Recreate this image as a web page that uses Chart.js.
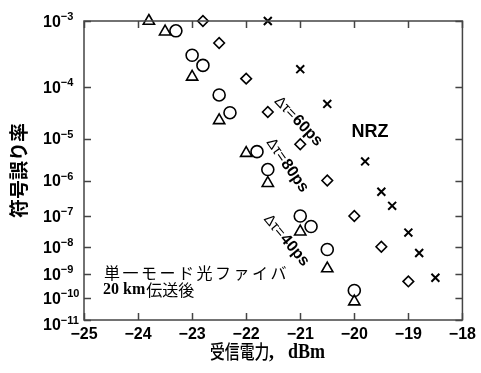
<!DOCTYPE html>
<html><head><meta charset="utf-8">
<script src="https://cdn.jsdelivr.net/npm/chart.js@4/dist/chart.umd.min.js"></script>
<style>html,body{margin:0;padding:0;background:#fff}</style>
</head><body>
<canvas id="c" width="481" height="373"></canvas>
<script>
// ---- data (received power in dBm, bit error rate) ----
const xTicks = [-25, -24, -23, -22, -21, -20, -19, -18];
const yTickExponents = [3, 4, 5, 6, 7, 8, 9, 10, 11];

const triPower = [-23.8, -23.5, -23.0, -22.5, -22.0, -21.6, -21.0, -20.5, -20.0];
const triBER   = [1e-3, 7.2e-4, 1.5e-4, 2.4e-5, 4.7e-6, 8.5e-7, 3.2e-8, 1.6e-9, 7e-11];

const cirPower = [-23.3, -23.0, -22.8, -22.5, -22.3, -21.8, -21.6, -21.0, -20.8, -20.5, -20.0];
const cirBER   = [7.4e-4, 3.3e-4, 2.3e-4, 7.3e-5, 3.4e-5, 5.1e-6, 1.9e-6, 1e-7, 4.7e-8, 8e-9, 2.1e-10];

const diaPower = [-22.8, -22.5, -22.0, -21.6, -21.0, -20.5, -20.0, -19.5, -19.0];
const diaBER   = [1e-3, 5e-4, 1.4e-4, 3.5e-5, 7.5e-6, 1e-6, 1e-7, 1e-8, 5e-10];

const nrzPower = [-21.6, -21.0, -20.5, -19.8, -19.5, -19.3, -19.0, -18.8, -18.5];
const nrzBER   = [1e-3, 2e-4, 5e-5, 3e-6, 5e-7, 2e-7, 3e-8, 6e-9, 7e-10];

// BER axis: log10(-log10(BER)) scale (reversed)
const berPos = b => Math.log10(-Math.log10(b));
const pts = (xs, bs) => xs.map((x, i) => ({ x: x, y: berPos(bs[i]) }));

const FRAME = '#444';
const SANS = '"Liberation Sans", Arial, sans-serif';
const CJK = '"Noto Sans CJK JP", sans-serif';
const SERIF = '"Liberation Serif", "Times New Roman", serif';

const decor = {
  id: 'decor',
  afterDraw(chart) {
    const ctx = chart.ctx, a = chart.chartArea;
    const xs = chart.scales.x, ys = chart.scales.y;
    ctx.save();
    // frame
    ctx.strokeStyle = FRAME; ctx.lineWidth = 1.5;
    ctx.strokeRect(a.left, a.top, a.right - a.left, a.bottom - a.top);
    // inner ticks
    const TL = 7;
    ctx.beginPath();
    xTicks.forEach(v => {
      const px = Math.round(xs.getPixelForValue(v)) + 0.5;
      ctx.moveTo(px, a.bottom); ctx.lineTo(px, a.bottom - TL);
      ctx.moveTo(px, a.top); ctx.lineTo(px, a.top + TL);
    });
    yTickExponents.forEach(n => {
      const py = Math.round(ys.getPixelForValue(berPos(Math.pow(10, -n)))) + 0.5;
      ctx.moveTo(a.left, py); ctx.lineTo(a.left + TL, py);
      ctx.moveTo(a.right, py); ctx.lineTo(a.right - TL, py);
    });
    ctx.stroke();
    // y tick labels 10^-n
    ctx.fillStyle = '#000';
    ctx.textBaseline = 'middle'; ctx.textAlign = 'left';
    yTickExponents.forEach((n, i) => {
      const py = ys.getPixelForValue(berPos(Math.pow(10, -n)));
      const off = (i === yTickExponents.length - 1) ? 6 : 1.5;
      ctx.font = 'bold 16px ' + SANS;
      ctx.fillText('10', 43, py + off);
      const w = ctx.measureText('10').width;
      ctx.font = 'bold 11px ' + SANS;
      ctx.fillText('\u2212' + n, 43 + w, py + off - 5.5);
    });
    // rotated Δτ labels
    const rot = (txt, cx, cy, ang) => {
      ctx.save();
      ctx.translate(cx, cy); ctx.rotate(ang * Math.PI / 180);
      ctx.textBaseline = 'middle'; ctx.textAlign = 'left';
      ctx.font = '15px ' + SANS;
      const p1 = '\u0394\u03c4=';
      const w1 = ctx.measureText(p1).width;
      ctx.font = 'bold 16px ' + SANS;
      const w2 = ctx.measureText(txt).width;
      const x0 = -(w1 + w2) / 2;
      ctx.font = '15px ' + SANS;
      ctx.fillText(p1, x0, 0);
      ctx.font = 'bold 16px ' + SANS;
      ctx.fillText(txt, x0 + w1 + 1, 0);
      ctx.restore();
    };
    rot('60ps', 298, 121, 46);
    rot('80ps', 287, 165, 55);
    rot('40ps', 286, 240, 50);
    // NRZ
    ctx.textAlign = 'center'; ctx.textBaseline = 'middle';
    ctx.font = 'bold 18px ' + SANS;
    ctx.fillText('NRZ', 370, 132);
    // fiber note
    ctx.textAlign = 'left';
    ctx.font = '16px ' + CJK;
    ctx.letterSpacing = '2.5px';
    ctx.fillText('単一モード光ファイバ', 104, 273);
    ctx.letterSpacing = '0px';
    ctx.font = 'bold 16px ' + SERIF;
    ctx.fillText('20 km', 103, 290);
    const wk = ctx.measureText('20 km').width;
    ctx.font = '16px ' + CJK;
    ctx.fillText('伝送後', 103 + wk + 1, 290);
    // x axis title
    ctx.save();
    ctx.translate(210, 352); ctx.scale(0.78, 1);
    ctx.font = '500 19px ' + CJK;
    ctx.fillText('受信電力', 0, 0);
    ctx.restore();
    ctx.font = 'bold 20px ' + SERIF;
    ctx.fillText(',', 269, 353);
    ctx.save();
    ctx.translate(288, 353); ctx.scale(0.9, 1);
    ctx.fillText('dBm', 0, 0);
    ctx.restore();
    ctx.restore();
  }
};

const ds = (label, data, style, r, bw) => ({
  label, data, pointStyle: style, pointRadius: r, pointHoverRadius: r,
  borderColor: '#000', backgroundColor: 'rgba(0,0,0,0)', borderWidth: bw,
  pointBorderWidth: bw, showLine: false, clip: false
});

new Chart(document.getElementById('c'), {
  type: 'scatter',
  data: {
    datasets: [
      ds('Δτ=40ps', pts(triPower, triBER), 'triangle', 6.5, 1.6),
      ds('Δτ=80ps', pts(cirPower, cirBER), 'circle', 6, 1.6),
      ds('Δτ=60ps', pts(diaPower, diaBER), 'rectRot', 5.3, 1.6),
      ds('NRZ', pts(nrzPower, nrzBER), 'crossRot', 5.6, 2)
    ]
  },
  options: {
    responsive: false,
    animation: false,
    layout: { padding: { top: 21, right: 16, left: 0, bottom: 0 } },
    plugins: { legend: { display: false }, tooltip: { enabled: false } },
    scales: {
      x: {
        type: 'linear', min: -25, max: -18,
        afterBuildTicks: s => { s.ticks = xTicks.map(v => ({ value: v })); },
        ticks: {
          callback: v => (v < 0 ? '\u2212' : '') + Math.abs(v),
          font: { family: SANS, weight: 'bold', size: 16 }, color: '#000', padding: 5,
          maxRotation: 0, autoSkip: false
        },
        grid: { display: false, drawTicks: false },
        border: { display: false },
        afterFit: s => { s.height = 53; }
      },
      y: {
        type: 'linear', reverse: true,
        min: Math.log10(3), max: Math.log10(11),
        ticks: { display: false },
        grid: { display: false, drawTicks: false },
        border: { display: false },
        title: {
          display: true, text: '符号誤り率', color: '#000',
          font: { family: CJK, weight: 'bold', size: 19 }, padding: { top: 7, bottom: 0 }
        },
        afterFit: s => { s.width = 84; }
      }
    }
  },
  plugins: [decor]
});
</script>
</body></html>
